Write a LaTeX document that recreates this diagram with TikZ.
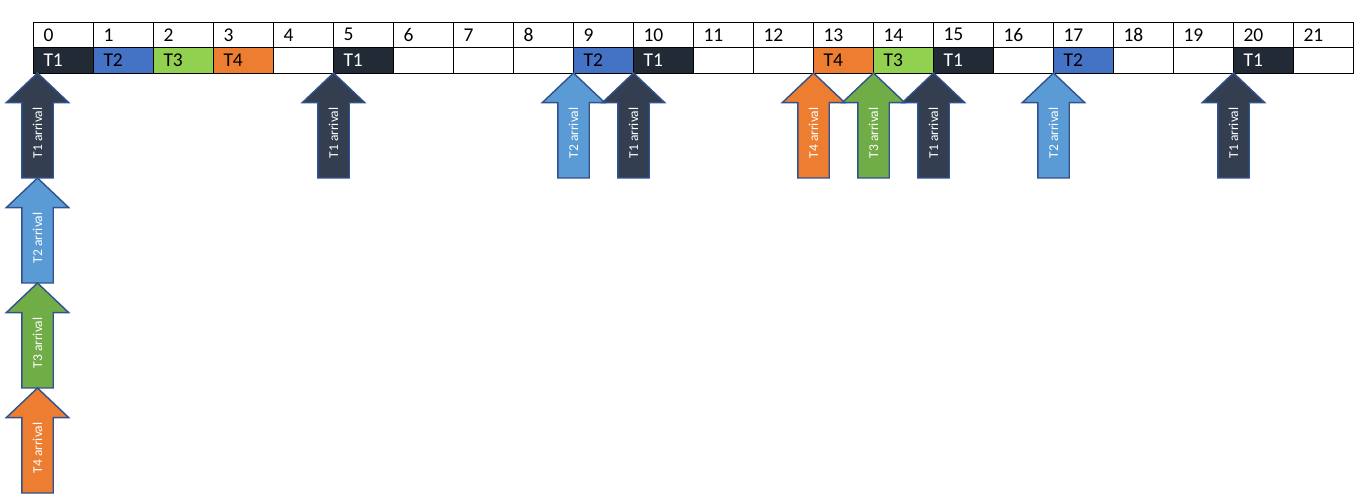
\documentclass[tikz,border=0pt]{standalone}
\usepackage{fontspec}
\setmainfont{Carlito}
\usetikzlibrary{shapes.arrows,positioning}
\definecolor{tone}{HTML}{222A35}
\definecolor{ttwo}{HTML}{4472C4}
\definecolor{tthree}{HTML}{92D050}
\definecolor{tfour}{HTML}{ED7D31}
\definecolor{aone}{HTML}{333F50}
\definecolor{atwo}{HTML}{5B9BD5}
\definecolor{athree}{HTML}{70AD47}
\definecolor{afour}{HTML}{ED7D31}
\definecolor{aline}{HTML}{2F528F}
\newcommand\tasklabel[1]{\ifnum#1>0 T#1\fi}
\begin{document}
\begin{tikzpicture}[x=1pt,y=-1pt,
node distance=0pt and 0pt,
cell/.style={draw,line width=0.9pt,minimum width=60pt,minimum height=25.5pt,inner sep=0pt,outer sep=0pt,
  text width=40pt,align=left,font=\fontsize{19.5}{21}\selectfont},
slot0/.style={},
slot1/.style={fill=tone,text=white},
slot2/.style={fill=ttwo},
slot3/.style={fill=tthree},
slot4/.style={fill=tfour},
tarrow/.style={single arrow,draw=aline,line width=1.4pt,minimum height=105pt,minimum width=61pt,
  single arrow head extend=15.5pt,single arrow tip angle=93,inner xsep=0pt,inner ysep=0pt,outer sep=0pt,
  text height=19.5pt,text depth=10.5pt,text=white,font=\fontsize{13.5}{15}\selectfont,rotate=90,anchor=tip},
arr1/.style={fill=aone},
arr2/.style={fill=atwo},
arr3/.style={fill=athree},
arr4/.style={fill=afour}]
\useasboundingbox (0,0) rectangle (1366,502);
% time line and schedule
\foreach \t [count=\n] in {1,2,3,4,0,1,0,0,0,2,1,0,0,4,3,1,0,2,0,0,1,0}{
  \pgfmathtruncatemacro\i{\n-1}
  \node[cell,anchor=north west] (h\i) at (33.5+60*\i,22) {\i};
  \node[cell,slot\t,below=of h\i] (s\i) {\tasklabel{\t}};
}
% arrivals at time 0
\coordinate (z0) at ([xshift=4pt]s0.south west);
\node[tarrow,arr1] (a0t1) at (z0) {T1 arrival};
\node[tarrow,arr2] (a0t2) at (a0t1.tail) {T2 arrival};
\node[tarrow,arr3] (a0t3) at (a0t2.tail) {T3 arrival};
\node[tarrow,arr4] (a0t4) at (a0t3.tail) {T4 arrival};
% later arrivals
\foreach \i/\t in {5/1,9/2,10/1,13/4,14/3,15/1,17/2,20/1}
  \node[tarrow,arr\t] (a\i) at (s\i.south west) {T\t{} arrival};
\end{tikzpicture}
\end{document}
